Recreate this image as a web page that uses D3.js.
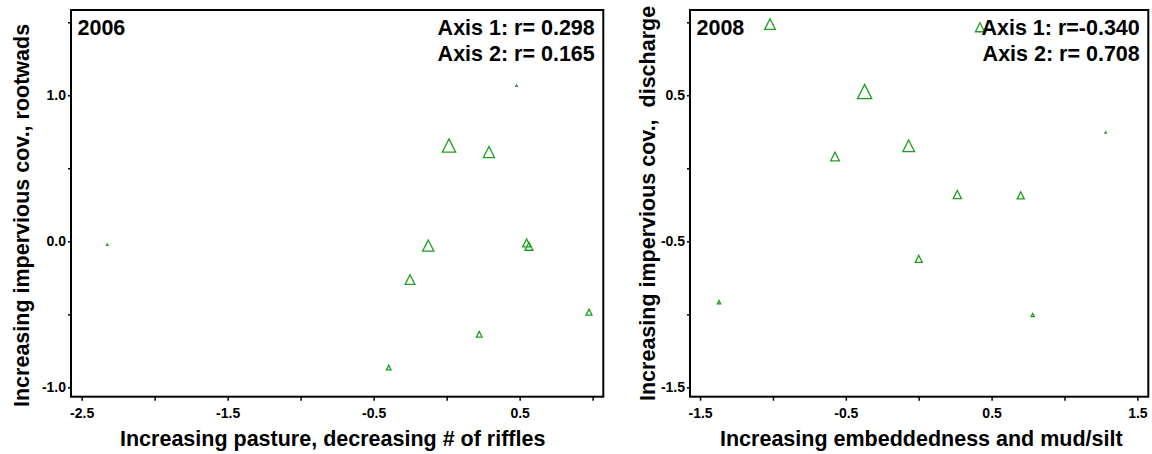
<!DOCTYPE html>
<html>
<head>
<meta charset="utf-8">
<script src="https://cdn.jsdelivr.net/npm/d3@7"></script>
<style>
  html, body { margin: 0; padding: 0; background: #fff; }
  svg { display: block; font-family: "Liberation Sans", Arial, sans-serif; font-weight: bold; }
</style>
</head>
<body>
<svg id="chart" width="1152" height="454"></svg>
<script>
// 2006 site scores (axis 1, axis 2) and relative marker weight
const x2006 = [-2.325, 0.479, 0.016, 0.290, -0.126, 0.548, 0.564, -0.251, 0.975, 0.223, -0.397];
const y2006 = [-0.023, 1.066, 0.656, 0.611, -0.029, -0.011, -0.034, -0.262, -0.485, -0.636, -0.865];
const w2006 = [9, 9, 89, 75, 75, 53, 53, 65, 40, 38, 31];

// 2008 site scores
const x2008 = [-1.020, -0.371, -0.574, -1.370, 0.420, -0.069, 0.265, 0.700, 0.000, 0.782, 1.282];
const y2008 = [0.988, 0.526, 0.081, -0.917, 0.966, 0.154, -0.180, -0.185, -0.620, -1.005, 0.245];
const w2008 = [71, 95, 58, 22, 60, 78, 55, 47, 47, 22, 9];

// ticks
const xTicks2006 = [-2.5, -2.0, -1.5, -1.0, -0.5, 0.0, 0.5, 1.0];
const xLabels2006 = [-2.5, -1.5, -0.5, 0.5];
const yTicks2006 = [1.5, 1.0, 0.5, 0.0, -0.5, -1.0];
const yLabels2006 = [1.0, 0.0, -1.0];

const xTicks2008 = [-1.5, -1.0, -0.5, 0.0, 0.5, 1.0, 1.5];
const xLabels2008 = [-1.5, -0.5, 0.5, 1.5];
const yTicks2008 = [1.0, 0.5, 0.0, -0.5, -1.0, -1.5];
const yLabels2008 = [0.5, -0.5, -1.5];

const green = "#1f9f1f";
const svg = d3.select("#chart");

const sizeScale = d3.scaleLinear().domain([0, 100]).range([0, 15]);

function triangle(w) {
    const h = w / 2;
    return `M0,${-h}L${h},${h}L${-h},${h}Z`;
}

function drawPanel(p) {
    const g = svg.append("g");

    const x = d3.scaleLinear().domain(p.xDomain).range([p.left, p.right]);
    const y = d3.scaleLinear().domain(p.yDomain).range([p.bottom, p.top]);

    const fmt = v => v.toFixed(1);

    const xAxis = g.append("g")
        .attr("transform", `translate(0,${p.bottom})`)
        .call(d3.axisBottom(x)
            .tickValues(p.xTicks)
            .tickSize(4)
            .tickPadding(7)
            .tickFormat(d => p.xLabels.includes(d) ? fmt(d) : ""));
    xAxis.select(".domain").remove();

    const yAxis = g.append("g")
        .attr("transform", `translate(${p.left},0)`)
        .call(d3.axisLeft(y)
            .tickValues(p.yTicks)
            .tickSize(3)
            .tickPadding(2)
            .tickFormat(d => p.yLabels.includes(d) ? fmt(d) : ""));
    yAxis.select(".domain").remove();

    g.selectAll(".tick line").attr("stroke", "#000").attr("stroke-width", 1.5);
    g.selectAll(".tick text")
        .attr("fill", "#000")
        .style("font-size", "14px")
        .style("font-weight", "bold");

    const pts = p.xs.map((v, i) => ({ x: v, y: p.ys[i], w: p.ws[i] }));

    g.append("g").selectAll("path")
        .data(pts)
        .join("path")
        .attr("transform", d => `translate(${x(d.x)},${y(d.y)})`)
        .attr("d", d => triangle(sizeScale(d.w)))
        .attr("fill", "none")
        .attr("stroke", green)
        .attr("stroke-width", 1.3);

    g.append("rect")
        .attr("x", p.left)
        .attr("y", p.top)
        .attr("width", p.right - p.left)
        .attr("height", p.bottom - p.top)
        .attr("fill", "none")
        .attr("stroke", "#000")
        .attr("stroke-width", 2);

    g.append("text")
        .attr("x", p.left + 6.5)
        .attr("y", 34.5)
        .style("font-size", "21.5px")
        .text(p.year);

    g.append("text")
        .attr("x", p.right - 8.5)
        .attr("y", 34.5)
        .attr("text-anchor", "end")
        .style("font-size", "21.5px")
        .text(p.r1);

    g.append("text")
        .attr("x", p.right - 8.5)
        .attr("y", 61)
        .attr("text-anchor", "end")
        .style("font-size", "21.5px")
        .text(p.r2);

    g.append("text")
        .attr("x", p.xTitleStart)
        .attr("y", 445.5)
        .style("font-size", "21.5px")
        .text(p.xTitle);

    g.append("text")
        .attr("transform", `translate(${p.yTitleX},${p.yTitleStart}) rotate(-90)`)
        .style("font-size", "21.5px")
        .style("white-space", "pre")
        .text(p.yTitle);
}

drawPanel({
    xs: x2006, ys: y2006, ws: w2006,
    xTicks: xTicks2006, xLabels: xLabels2006,
    yTicks: yTicks2006, yLabels: yLabels2006,
    xDomain: [-2.573, 1.073], yDomain: [-1.064, 1.584],
    left: 71, right: 603.3, top: 10, bottom: 396.7,
    year: "2006",
    r1: "Axis 1: r= 0.298",
    r2: "Axis 2: r= 0.165",
    xTitle: "Increasing pasture, decreasing # of riffles",
    xTitleStart: 120,
    yTitle: "Increasing impervious cov., rootwads",
    yTitleX: 28.5, yTitleStart: 407
});

drawPanel({
    xs: x2008, ys: y2008, ws: w2008,
    xTicks: xTicks2008, xLabels: xLabels2008,
    yTicks: yTicks2008, yLabels: yLabels2008,
    xDomain: [-1.569, 1.575], yDomain: [-1.564, 1.084],
    left: 690, right: 1148.3, top: 10, bottom: 396.7,
    year: "2008",
    r1: "Axis 1: r=-0.340",
    r2: "Axis 2: r= 0.708",
    xTitle: "Increasing embeddedness and mud/silt",
    xTitleStart: 720,
    yTitle: "Increasing impervious cov.,  discharge",
    yTitleX: 655, yTitleStart: 401
});
</script>
</body>
</html>
